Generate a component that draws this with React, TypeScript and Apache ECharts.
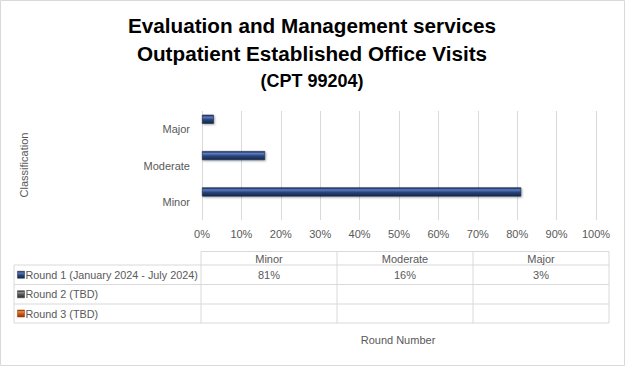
import React, { useEffect, useRef } from "react";
import * as echarts from "echarts";

const titleLines = [
  "Evaluation and Management services",
  "Outpatient Established Office Visits",
  "(CPT 99204)",
];
const categories = ["Minor", "Moderate", "Major"];
const seriesNames = [
  "Round 1 (January 2024 - July 2024)",
  "Round 2 (TBD)",
  "Round 3 (TBD)",
];
const round1: number[] = [0.81, 0.16, 0.03];
const round2: number[] = [];
const round3: number[] = [];
const xMin = 0;
const xMax = 1;
const xInterval = 0.1;
const yAxisTitle = "Classification";
const xAxisTitle = "Round Number";

const seriesColors = [
  ["#5A7CC2", "#2B4478", "#16264A"],
  ["#8A8A8A", "#555555", "#2E2E2E"],
  ["#F08A3C", "#C9561A", "#8E3508"],
];

const FONT = "Liberation Sans, Arial, sans-serif";
const GRAY = "#595959";
const LINE = "#D9D9D9";

function barGradient(i: number) {
  const c = seriesColors[i];
  return new echarts.graphic.LinearGradient(0, 0, 0, 1, [
    { offset: 0, color: c[2] },
    { offset: 0.25, color: c[0] },
    { offset: 0.55, color: c[1] },
    { offset: 1, color: c[2] },
  ]);
}

const fmtPct = (v: number) => Math.round(v * 100) + "%";

export default function App() {
  const ref = useRef<HTMLDivElement>(null);
  useEffect(() => {
    if (!ref.current) return;
    const chart = echarts.init(ref.current, undefined, { renderer: "svg" });
    const allSeries = [round1, round2, round3];

    // data table geometry
    const colX = [201, 337, 473, 609];
    const legendLeft = 14;
    const rowY = [251.5, 265, 284.5, 304, 323];
    const graphics: any[] = [];
    graphics.push({
      type: "rect",
      shape: { x: 0.5, y: 0.5, width: 624, height: 365 },
      style: { fill: "none", stroke: LINE, lineWidth: 1 },
      silent: true,
    });
    const hl = (y: number, x1: number, x2: number) =>
      graphics.push({
        type: "line",
        shape: { x1, y1: y, x2, y2: y },
        style: { stroke: LINE, lineWidth: 1 },
      });
    const vl = (x: number, y1: number, y2: number) =>
      graphics.push({
        type: "line",
        shape: { x1: x, y1, x2: x, y2 },
        style: { stroke: LINE, lineWidth: 1 },
      });
    hl(rowY[0], colX[0], colX[3]);
    for (let r = 1; r < rowY.length; r++) hl(rowY[r], legendLeft, colX[3]);
    vl(legendLeft, rowY[1], rowY[4]);
    colX.forEach((x) => vl(x, rowY[0], rowY[4]));
    // header
    categories.forEach((c, j) => {
      graphics.push({
        type: "text",
        style: {
          text: c,
          x: (colX[j] + colX[j + 1]) / 2,
          y: (rowY[0] + rowY[1]) / 2 + 0.5,
          textAlign: "center",
          textVerticalAlign: "middle",
          fill: GRAY,
          font: `11px ${FONT}`,
        },
      });
    });
    seriesNames.forEach((name, i) => {
      const cy = (rowY[i + 1] + rowY[i + 2]) / 2;
      graphics.push({
        type: "rect",
        shape: { x: 17.5, y: cy - 3.5, width: 7, height: 7 },
        style: { fill: barGradient(i), stroke: seriesColors[i][2], lineWidth: 0.5 },
      });
      graphics.push({
        type: "text",
        style: {
          text: name,
          x: 25.5,
          y: cy,
          textAlign: "left",
          textVerticalAlign: "middle",
          fill: GRAY,
          font: `10.8px ${FONT}`,
        },
      });
      const vals = allSeries[i];
      categories.forEach((_, j) => {
        if (vals[j] === undefined) return;
        graphics.push({
          type: "text",
          style: {
            text: fmtPct(vals[j]),
            x: (colX[j] + colX[j + 1]) / 2,
            y: cy,
            textAlign: "center",
            textVerticalAlign: "middle",
            fill: GRAY,
            font: `11px ${FONT}`,
          },
        });
      });
    });
    // titles
    const titleY = [25, 53, 81];
    const titleSize = [20.7, 20.7, 18];
    titleLines.forEach((t, i) => {
      graphics.push({
        type: "text",
        style: {
          text: t,
          x: 312,
          y: titleY[i],
          textAlign: "center",
          textVerticalAlign: "middle",
          fill: "#000000",
          font: `bold ${titleSize[i]}px ${FONT}`,
        },
      });
    });
    graphics.push({
      type: "text",
      x: 24,
      y: 165,
      rotation: Math.PI / 2,
      style: {
        text: yAxisTitle,
        x: 0,
        y: 0,
        textAlign: "center",
        textVerticalAlign: "middle",
        fill: GRAY,
        font: `11px ${FONT}`,
      },
    });
    graphics.push({
      type: "text",
      style: {
        text: xAxisTitle,
        x: 398,
        y: 340,
        textAlign: "center",
        textVerticalAlign: "middle",
        fill: GRAY,
        font: `11px ${FONT}`,
      },
    });

    chart.setOption({
      animation: false,
      grid: { left: 202, right: 29, top: 111, bottom: 146, containLabel: false },
      xAxis: {
        type: "value",
        min: xMin,
        max: xMax,
        interval: xInterval,
        axisLine: { show: false },
        axisTick: { show: false },
        axisLabel: {
          color: GRAY,
          fontSize: 11,
          fontFamily: FONT,
          margin: 8,
          formatter: (v: number) => fmtPct(v),
        },
        splitLine: { show: true, lineStyle: { color: LINE, width: 1 } },
      },
      yAxis: {
        type: "category",
        data: categories,
        axisLine: { show: false },
        axisTick: { show: false },
        axisLabel: { color: GRAY, fontSize: 11, fontFamily: FONT, margin: 12 },
        splitLine: { show: false },
      },
      series: allSeries.map((d, i) => ({
        type: "bar",
        name: seriesNames[i],
        data: d,
        barWidth: 9,
        barGap: "10%",
        itemStyle: {
          color: barGradient(i),
          borderColor: seriesColors[i][2],
          borderWidth: 0.6,
          shadowColor: "rgba(0,0,0,0.35)",
          shadowBlur: 2,
          shadowOffsetX: 1,
          shadowOffsetY: 1,
        },
      })),
      graphic: graphics,
    });
    return () => chart.dispose();
  }, []);
  return (
    <div
      ref={ref}
      style={{ position: "absolute", left: 0, top: 0, width: 625, height: 366, background: "#fff" }}
    />
  );
}
